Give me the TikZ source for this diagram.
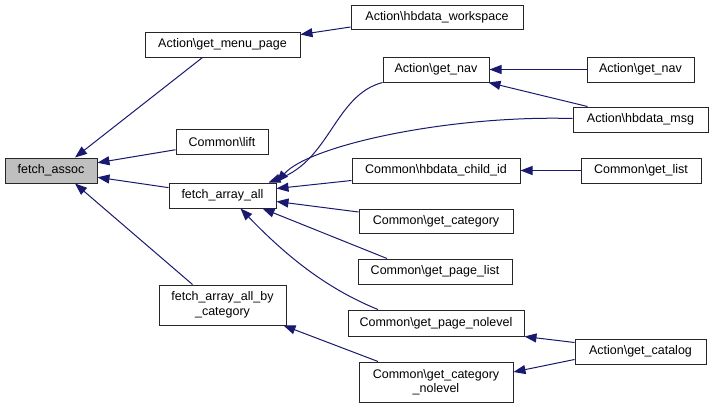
\documentclass[tikz,border=0pt]{standalone}
\usepackage{fontspec}
\setmainfont{Liberation Sans}
\usetikzlibrary{arrows.meta}
\definecolor{edgeblue}{HTML}{191970}
\definecolor{rootgray}{HTML}{BFBFBF}

\tikzset{
  fn/.style={draw=black!85, line width=1pt, fill=white, minimum height=25pt,
             inner sep=2pt, align=center, font=\fontsize{12.5}{14.5}\selectfont},
  call/.style={draw=edgeblue, line width=1pt,
               -{Triangle[length=12pt, width=9pt, fill=edgeblue]}},
}

\begin{document}
\begin{tikzpicture}[x=1pt, y=-1pt]
  \useasboundingbox (0,0) rectangle (713,407);

  % first column
  \node[fn, fill=rootgray, minimum width=92pt] (fetchassoc) at (51, 170.5) {fetch\_assoc};

  % second column
  \node[fn, minimum width=155pt] (getmenupage) at (222.5, 44.5) {Action\textbackslash get\_menu\_page};
  \node[fn, minimum width=92pt] (lift) at (222, 142) {Common\textbackslash lift};
  \node[fn, minimum width=107pt] (fetcharrayall) at (222.5, 195.5) {fetch\_array\_all};
  \node[fn, minimum width=127pt, minimum height=40pt] (bycategory) at (222.5, 305)
       {fetch\_array\_all\_by\\\_category};

  % third column
  \node[fn, minimum width=172pt, minimum height=24pt] (workspace) at (437, 17) {Action\textbackslash hbdata\_workspace};
  \node[fn, minimum width=106pt] (getnavl) at (436, 69.5) {Action\textbackslash get\_nav};
  \node[fn, minimum width=168pt] (childid) at (436, 170.5) {Common\textbackslash hbdata\_child\_id};
  \node[fn, minimum width=154pt, minimum height=24pt] (getcategory) at (436, 221) {Common\textbackslash get\_category};
  \node[fn, minimum width=154pt] (getpagelist) at (435, 271.5) {Common\textbackslash get\_page\_list};
  \node[fn, minimum width=176pt, minimum height=26pt] (getpagenolevel) at (436, 323) {Common\textbackslash get\_page\_nolevel};
  \node[fn, minimum width=154pt, minimum height=40pt] (getcatnolevel) at (436, 382)
       {Common\textbackslash get\_category\\\_nolevel};

  % fourth column
  \node[fn, minimum width=107pt] (getnavr) at (640.5, 69.5) {Action\textbackslash get\_nav};
  \node[fn, minimum width=135pt] (hbdatamsg) at (640.5, 119.5) {Action\textbackslash hbdata\_msg};
  \node[fn, minimum width=120pt] (getlist) at (641, 170.5) {Common\textbackslash get\_list};
  \node[fn, minimum width=131pt] (getcatalog) at (640.5, 351.5) {Action\textbackslash get\_catalog};

  % calls into fetch_assoc
  \draw[call] ([xshift=-20pt]getmenupage.south) -- ([xshift=24pt]fetchassoc.north);
  \draw[call] (lift) -- (fetchassoc);
  \draw[call] (fetcharrayall) -- (fetchassoc);
  \draw[call] ([xshift=-30pt]bycategory.north) -- ([xshift=24pt]fetchassoc.south);

  % calls into the second column
  \draw[call] ([yshift=-10pt]workspace.west) -- ([yshift=10pt]getmenupage.east);
  \draw[call] (getnavl.south west) .. controls (335,95) and (330,160) .. ([xshift=-8pt]fetcharrayall.north east);
  \draw[call] ([yshift=1pt]hbdatamsg.west) .. controls (450,115) and (310,145) .. (fetcharrayall.north east);
  \draw[call] ([yshift=-10pt]childid.west) -- ([yshift=7pt]fetcharrayall.east);
  \draw[call] ([yshift=9pt]getcategory.west) -- ([yshift=-6pt]fetcharrayall.east);
  \draw[call] ([xshift=-48pt]getpagelist.north) -- ([xshift=40pt]fetcharrayall.south);
  \draw[call] ([xshift=-58pt]getpagenolevel.north) .. controls (330,290) and (290,260) .. ([xshift=18pt]fetcharrayall.south);
  \draw[call] ([xshift=-58pt]getcatnolevel.north) -- ([xshift=-3pt]bycategory.south east);

  % calls into the third column
  \draw[call] (getnavr) -- (getnavl);
  \draw[call] ([xshift=-53pt]hbdatamsg.north) -- ([xshift=-1pt]getnavl.south east);
  \draw[call] (getlist) -- (childid);
  \draw[call] ([yshift=9pt]getcatalog.west) -- (getpagenolevel.south east);
  \draw[call] ([yshift=-8pt]getcatalog.west) -- ([yshift=10pt]getcatnolevel.east);
\end{tikzpicture}
\end{document}
